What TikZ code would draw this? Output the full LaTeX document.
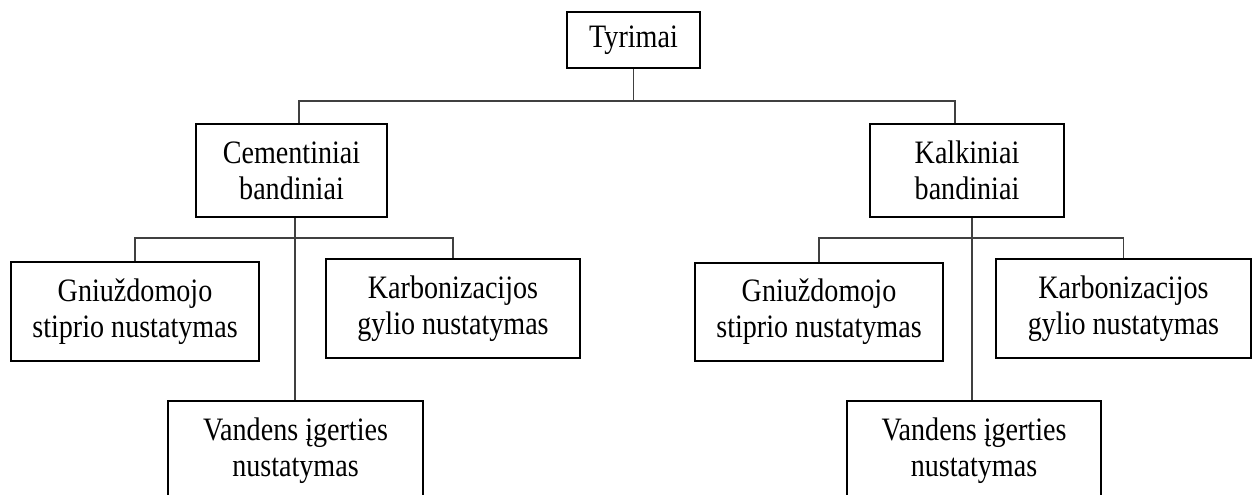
\documentclass[tikz,border=0pt]{standalone}
\usepackage{fontspec}
\setmainfont[FakeStretch=0.86]{Liberation Serif}

\begin{document}
\begin{tikzpicture}[
  blok/.style={draw, line width=1.1pt, align=center, inner sep=0pt,
    font=\fontsize{18.6}{20.5}\selectfont},
  linija/.style={line width=0.6pt, draw=black!75}]
\useasboundingbox (0,0) rectangle (25.080,-9.900);
\clip (0,0) rectangle (25.080,-9.900);
% virsus
\node[blok, minimum width=2.660cm, minimum height=1.120cm] (tyr) at (12.670,-0.800) {Tyrimai};
\node[blok, minimum width=3.820cm, minimum height=1.860cm] (cem) at (5.830,-3.410) {Cementiniai\\bandiniai};
\node[blok, minimum width=3.880cm, minimum height=1.860cm] (kal) at (19.340,-3.410) {Kalkiniai\\bandiniai};
% kairė šaka
\node[blok, minimum width=4.960cm, minimum height=1.980cm] (gnL) at (2.700,-6.230) {Gniuždomojo\\stiprio nustatymas};
\node[blok, minimum width=5.080cm, minimum height=1.980cm] (krL) at (9.060,-6.170) {Karbonizacijos\\gylio nustatymas};
\node[blok, minimum width=5.100cm, minimum height=1.980cm] (vaL) at (5.910,-9.010) {Vandens įgerties\\nustatymas};
% dešinė šaka
\node[blok, minimum width=4.960cm, minimum height=1.960cm] (gnR) at (16.380,-6.240) {Gniuždomojo\\stiprio nustatymas};
\node[blok, minimum width=5.100cm, minimum height=1.980cm] (krR) at (22.470,-6.170) {Karbonizacijos\\gylio nustatymas};
\node[blok, minimum width=5.080cm, minimum height=1.980cm] (vaR) at (19.480,-9.010) {Vandens įgerties\\nustatymas};
% jungtys
\coordinate (b1L) at (5.980,-2.020);
\coordinate (b1R) at (19.100,-2.020);
\coordinate (b2L) at (5.900,-4.760);
\coordinate (b2R) at (19.440,-4.760);
\draw[linija] (tyr.south) -- (tyr.south |- b1L);
\draw[linija] (b1L |- cem.north) -- (b1L) -- (b1R) -- (b1R |- kal.north);
\draw[linija] (cem.south -| b2L) -- (vaL.north -| b2L);
\draw[linija] (gnL.north) -- (gnL.north |- b2L) -- (krL.north |- b2L) -- (krL.north);
\draw[linija] (kal.south -| b2R) -- (vaR.north -| b2R);
\draw[linija] (gnR.north) -- (gnR.north |- b2R) -- (krR.north |- b2R) -- (krR.north);
\end{tikzpicture}
\end{document}
